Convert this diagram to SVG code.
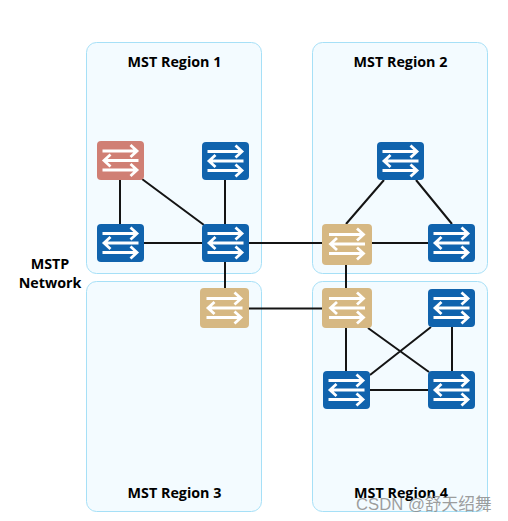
<svg xmlns="http://www.w3.org/2000/svg" width="508" height="521" viewBox="0 0 508 521">
<style>
.region{fill:#f3fbff;stroke:#a6e0f7;stroke-width:1}
.link{stroke:#141414;stroke-width:2;fill:none}
.label{font-family:"Open Sans","Liberation Sans",sans-serif;font-weight:700;font-size:14.300px;fill:#000;text-anchor:middle}
.ar{stroke:#fff;stroke-width:2.800;fill:none}
.blue{fill:#1063ad}.red{fill:#d07f74}.tan{fill:#d6b883}
.wm{font-family:"Liberation Sans","Noto Sans CJK SC",sans-serif;font-size:16.700px;fill:#8c8c8c;fill-opacity:.85}
</style>
<defs>
<g id="arrows">
<path class="ar" d="M-18-9.500H16.500M10-15.500L16.500-9.500L10-3.500"/>
<path class="ar" d="M18 0H-16.500M-10-6L-16.500 0L-10 6"/>
<path class="ar" d="M-18 9.500H16.500M10 3.500L16.500 9.500L10 15.500"/>
</g>
</defs>
<g id="regions">
<g id="region1"><rect class="region" x="86.500" y="42.500" width="175" height="231" rx="10"/><text class="label" x="174.500" y="67">MST Region 1</text></g>
<g id="region2"><rect class="region" x="312.500" y="42.500" width="175" height="231" rx="10"/><text class="label" x="400.500" y="67">MST Region 2</text></g>
<g id="region3"><rect class="region" x="86.500" y="281.500" width="175" height="230" rx="10"/><text class="label" x="174.500" y="498">MST Region 3</text></g>
<g id="region4"><rect class="region" x="312.500" y="281.500" width="175" height="230" rx="10"/><text class="label" x="401" y="498">MST Region 4</text></g>
</g>
<g id="network-label"><text class="label" x="50" y="269">MSTP</text><text class="label" x="50" y="288">Network</text></g>
<g id="connectors">
<path class="link" d="M120 180V224M142 179L204 225M225 180V224M144 243H202M225 262V288M249 243H322M249 308.500H322"/>
<path class="link" d="M384 180L346 224M416 180L452 224M372 243H428M346 265V288"/>
<path class="link" d="M346 328V371M368 328L429 372M431 327L370 375M452 327V371M370 390H428"/>
</g>
<g id="sw-r1-root"><rect class="red" x="97" y="141" width="47" height="39" rx="4"/><use href="#arrows" x="120.500" y="160.500"/></g>
<g id="sw-r1-b"><rect class="blue" x="202" y="142" width="47" height="38" rx="4"/><use href="#arrows" x="225.500" y="161"/></g>
<g id="sw-r1-c"><rect class="blue" x="97" y="224" width="47" height="38" rx="4"/><use href="#arrows" x="120.500" y="243"/></g>
<g id="sw-r1-d"><rect class="blue" x="202" y="224" width="47" height="38" rx="4"/><use href="#arrows" x="225.500" y="243"/></g>
<g id="sw-r3-a"><rect class="tan" x="200" y="288" width="49" height="40" rx="4"/><use href="#arrows" x="224.500" y="308"/></g>
<g id="sw-r2-a"><rect class="blue" x="377" y="142" width="47" height="38" rx="4"/><use href="#arrows" x="400.500" y="161"/></g>
<g id="sw-r2-b"><rect class="tan" x="322" y="224" width="50" height="41" rx="4"/><use href="#arrows" x="347" y="244"/></g>
<g id="sw-r2-c"><rect class="blue" x="428" y="224" width="47" height="38" rx="4"/><use href="#arrows" x="451.500" y="243"/></g>
<g id="sw-r4-a"><rect class="tan" x="322" y="288" width="50" height="40" rx="4"/><use href="#arrows" x="347" y="308"/></g>
<g id="sw-r4-b"><rect class="blue" x="428" y="289" width="47" height="38" rx="4"/><use href="#arrows" x="451.500" y="308"/></g>
<g id="sw-r4-c"><rect class="blue" x="323" y="371" width="47" height="38" rx="4"/><use href="#arrows" x="346.500" y="390"/></g>
<g id="sw-r4-d"><rect class="blue" x="428" y="371" width="47" height="38" rx="4"/><use href="#arrows" x="451.500" y="390"/></g>
<text class="wm" x="356" y="510">CSDN @舒天绍舞</text>
</svg>
